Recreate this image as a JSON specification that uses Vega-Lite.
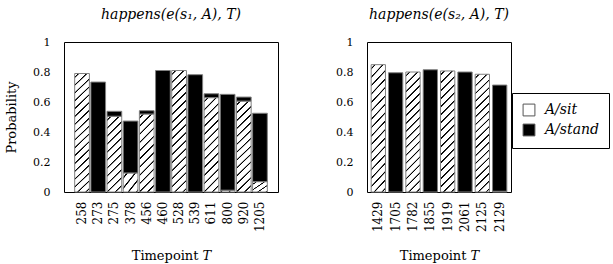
{
  "$schema": "https://vega.github.io/schema/vega-lite/v6.json",
  "autosize": {"type": "pad"},
  "padding": {"left": 5, "top": 7, "right": 0, "bottom": 0},
  "background": "white",
  "datasets": {
    "s1": [
      {"T": 258, "kind": "A/sit", "p": 0.79},
      {"T": 273, "kind": "A/stand", "p": 0.733},
      {"T": 275, "kind": "A/sit", "p": 0.505},
      {"T": 275, "kind": "A/stand", "p": 0.033},
      {"T": 378, "kind": "A/sit", "p": 0.127},
      {"T": 378, "kind": "A/stand", "p": 0.346},
      {"T": 456, "kind": "A/sit", "p": 0.52},
      {"T": 456, "kind": "A/stand", "p": 0.022},
      {"T": 460, "kind": "A/stand", "p": 0.81},
      {"T": 528, "kind": "A/sit", "p": 0.81},
      {"T": 539, "kind": "A/stand", "p": 0.782},
      {"T": 611, "kind": "A/sit", "p": 0.629},
      {"T": 611, "kind": "A/stand", "p": 0.026},
      {"T": 800, "kind": "A/sit", "p": 0.012},
      {"T": 800, "kind": "A/stand", "p": 0.639},
      {"T": 920, "kind": "A/sit", "p": 0.606},
      {"T": 920, "kind": "A/stand", "p": 0.027},
      {"T": 1205, "kind": "A/sit", "p": 0.069},
      {"T": 1205, "kind": "A/stand", "p": 0.456}
    ],
    "s2": [
      {"T": 1429, "kind": "A/sit", "p": 0.849},
      {"T": 1705, "kind": "A/stand", "p": 0.795},
      {"T": 1782, "kind": "A/sit", "p": 0.80},
      {"T": 1855, "kind": "A/stand", "p": 0.815},
      {"T": 1919, "kind": "A/sit", "p": 0.807},
      {"T": 2061, "kind": "A/stand", "p": 0.80},
      {"T": 2125, "kind": "A/sit", "p": 0.785},
      {"T": 2129, "kind": "A/sit", "p": 0.005},
      {"T": 2129, "kind": "A/stand", "p": 0.708}
    ]
  },
  "resolve": {"scale": {"x": "independent", "y": "independent", "fill": "shared"}, "legend": {"fill": "shared"}},
  "spacing": 56,
  "hconcat": [
    {
      "width": 214,
      "height": 150,
      "data": {"name": "s1"},
      "title": {"text": "happens(e(s₁, A), T)"},
      "mark": {"type": "bar", "stroke": "#808080", "strokeWidth": 1},
      "encoding": {
        "x": {"field": "T", "type": "ordinal", "scale": {"paddingInner": 0.09, "paddingOuter": 0.66},
              "axis": {"title": "Timepoint 𝑇", "labelAngle": -90, "labelFontSize": 12, "labelPadding": 9, "titlePadding": 18}},
        "y": {"field": "p", "type": "quantitative", "stack": "zero", "scale": {"domain": [0, 1]},
              "axis": {"title": "Probability", "values": [0, 0.2, 0.4, 0.6, 0.8, 1], "format": "~g", "labelPadding": 14, "titlePadding": 14}},
        "order": {"field": "kind", "type": "ordinal", "sort": "ascending"},
        "fill": {
          "field": "kind", "type": "nominal",
          "scale": {"domain": ["A/sit", "A/stand"], "range": ["white", "black"]},
          "legend": {
            "orient": "none", "legendX": 448, "legendY": 51, "title": null,
            "symbolType": "square", "symbolSize": 140, "symbolStrokeColor": "#555", "symbolStrokeWidth": 1,
            "strokeColor": "black", "fillColor": "white", "padding": 10,
            "labelFont": "DejaVu Serif", "labelFontStyle": "italic", "labelFontSize": 14, "labelColor": "black",
            "labelOffset": 9, "rowPadding": 4, "labelLimit": 200,
            "encode": {"symbols": {"update": {
              "stroke": {"value": "#555"},
              "strokeWidth": {"value": 1}
            }}}
          },
          "condition": [
            {"test": "datum.kind === 'A/sit' && datum.p > 0.7", "value": {"gradient": "linear", "x1": 0, "y1": 0, "x2": 0.1562, "y2": 1.3036, "stops": [
              {"offset": 0, "color": "#fff"},
              {"offset": 0.018, "color": "#fff"}, {"offset": 0.022, "color": "#000"}, {"offset": 0.028, "color": "#000"}, {"offset": 0.032, "color": "#fff"},
              {"offset": 0.068, "color": "#fff"}, {"offset": 0.072, "color": "#000"}, {"offset": 0.078, "color": "#000"}, {"offset": 0.082, "color": "#fff"},
              {"offset": 0.118, "color": "#fff"}, {"offset": 0.122, "color": "#000"}, {"offset": 0.128, "color": "#000"}, {"offset": 0.132, "color": "#fff"},
              {"offset": 0.168, "color": "#fff"}, {"offset": 0.172, "color": "#000"}, {"offset": 0.178, "color": "#000"}, {"offset": 0.182, "color": "#fff"},
              {"offset": 0.218, "color": "#fff"}, {"offset": 0.222, "color": "#000"}, {"offset": 0.228, "color": "#000"}, {"offset": 0.232, "color": "#fff"},
              {"offset": 0.268, "color": "#fff"}, {"offset": 0.272, "color": "#000"}, {"offset": 0.278, "color": "#000"}, {"offset": 0.282, "color": "#fff"},
              {"offset": 0.318, "color": "#fff"}, {"offset": 0.322, "color": "#000"}, {"offset": 0.328, "color": "#000"}, {"offset": 0.332, "color": "#fff"},
              {"offset": 0.368, "color": "#fff"}, {"offset": 0.372, "color": "#000"}, {"offset": 0.378, "color": "#000"}, {"offset": 0.382, "color": "#fff"},
              {"offset": 0.418, "color": "#fff"}, {"offset": 0.422, "color": "#000"}, {"offset": 0.428, "color": "#000"}, {"offset": 0.432, "color": "#fff"},
              {"offset": 0.468, "color": "#fff"}, {"offset": 0.472, "color": "#000"}, {"offset": 0.478, "color": "#000"}, {"offset": 0.482, "color": "#fff"},
              {"offset": 0.518, "color": "#fff"}, {"offset": 0.522, "color": "#000"}, {"offset": 0.528, "color": "#000"}, {"offset": 0.532, "color": "#fff"},
              {"offset": 0.568, "color": "#fff"}, {"offset": 0.572, "color": "#000"}, {"offset": 0.578, "color": "#000"}, {"offset": 0.582, "color": "#fff"},
              {"offset": 0.618, "color": "#fff"}, {"offset": 0.622, "color": "#000"}, {"offset": 0.628, "color": "#000"}, {"offset": 0.632, "color": "#fff"},
              {"offset": 0.668, "color": "#fff"}, {"offset": 0.672, "color": "#000"}, {"offset": 0.678, "color": "#000"}, {"offset": 0.682, "color": "#fff"},
              {"offset": 0.718, "color": "#fff"}, {"offset": 0.722, "color": "#000"}, {"offset": 0.728, "color": "#000"}, {"offset": 0.732, "color": "#fff"},
              {"offset": 0.768, "color": "#fff"}, {"offset": 0.772, "color": "#000"}, {"offset": 0.778, "color": "#000"}, {"offset": 0.782, "color": "#fff"},
              {"offset": 0.818, "color": "#fff"}, {"offset": 0.822, "color": "#000"}, {"offset": 0.828, "color": "#000"}, {"offset": 0.832, "color": "#fff"},
              {"offset": 0.868, "color": "#fff"}, {"offset": 0.872, "color": "#000"}, {"offset": 0.878, "color": "#000"}, {"offset": 0.882, "color": "#fff"},
              {"offset": 0.918, "color": "#fff"}, {"offset": 0.922, "color": "#000"}, {"offset": 0.928, "color": "#000"}, {"offset": 0.932, "color": "#fff"},
              {"offset": 1, "color": "#fff"}
            ]}},
            {"test": "datum.kind === 'A/sit' && datum.p > 0.58", "value": {"gradient": "linear", "x1": 0, "y1": 0, "x2": 0.2675, "y2": 1.697, "stops": [
              {"offset": 0, "color": "#fff"},
              {"offset": 0.018, "color": "#fff"}, {"offset": 0.022, "color": "#000"}, {"offset": 0.028, "color": "#000"}, {"offset": 0.032, "color": "#fff"},
              {"offset": 0.068, "color": "#fff"}, {"offset": 0.072, "color": "#000"}, {"offset": 0.078, "color": "#000"}, {"offset": 0.082, "color": "#fff"},
              {"offset": 0.118, "color": "#fff"}, {"offset": 0.122, "color": "#000"}, {"offset": 0.128, "color": "#000"}, {"offset": 0.132, "color": "#fff"},
              {"offset": 0.168, "color": "#fff"}, {"offset": 0.172, "color": "#000"}, {"offset": 0.178, "color": "#000"}, {"offset": 0.182, "color": "#fff"},
              {"offset": 0.218, "color": "#fff"}, {"offset": 0.222, "color": "#000"}, {"offset": 0.228, "color": "#000"}, {"offset": 0.232, "color": "#fff"},
              {"offset": 0.268, "color": "#fff"}, {"offset": 0.272, "color": "#000"}, {"offset": 0.278, "color": "#000"}, {"offset": 0.282, "color": "#fff"},
              {"offset": 0.318, "color": "#fff"}, {"offset": 0.322, "color": "#000"}, {"offset": 0.328, "color": "#000"}, {"offset": 0.332, "color": "#fff"},
              {"offset": 0.368, "color": "#fff"}, {"offset": 0.372, "color": "#000"}, {"offset": 0.378, "color": "#000"}, {"offset": 0.382, "color": "#fff"},
              {"offset": 0.418, "color": "#fff"}, {"offset": 0.422, "color": "#000"}, {"offset": 0.428, "color": "#000"}, {"offset": 0.432, "color": "#fff"},
              {"offset": 0.468, "color": "#fff"}, {"offset": 0.472, "color": "#000"}, {"offset": 0.478, "color": "#000"}, {"offset": 0.482, "color": "#fff"},
              {"offset": 0.518, "color": "#fff"}, {"offset": 0.522, "color": "#000"}, {"offset": 0.528, "color": "#000"}, {"offset": 0.532, "color": "#fff"},
              {"offset": 0.568, "color": "#fff"}, {"offset": 0.572, "color": "#000"}, {"offset": 0.578, "color": "#000"}, {"offset": 0.582, "color": "#fff"},
              {"offset": 0.618, "color": "#fff"}, {"offset": 0.622, "color": "#000"}, {"offset": 0.628, "color": "#000"}, {"offset": 0.632, "color": "#fff"},
              {"offset": 0.668, "color": "#fff"}, {"offset": 0.672, "color": "#000"}, {"offset": 0.678, "color": "#000"}, {"offset": 0.682, "color": "#fff"},
              {"offset": 0.718, "color": "#fff"}, {"offset": 0.722, "color": "#000"}, {"offset": 0.728, "color": "#000"}, {"offset": 0.732, "color": "#fff"},
              {"offset": 1, "color": "#fff"}
            ]}},
            {"test": "datum.kind === 'A/sit' && datum.p > 0.3", "value": {"gradient": "linear", "x1": 0, "y1": 0, "x2": 0.3876, "y2": 2.0314, "stops": [
              {"offset": 0, "color": "#fff"},
              {"offset": 0.018, "color": "#fff"}, {"offset": 0.022, "color": "#000"}, {"offset": 0.028, "color": "#000"}, {"offset": 0.032, "color": "#fff"},
              {"offset": 0.068, "color": "#fff"}, {"offset": 0.072, "color": "#000"}, {"offset": 0.078, "color": "#000"}, {"offset": 0.082, "color": "#fff"},
              {"offset": 0.118, "color": "#fff"}, {"offset": 0.122, "color": "#000"}, {"offset": 0.128, "color": "#000"}, {"offset": 0.132, "color": "#fff"},
              {"offset": 0.168, "color": "#fff"}, {"offset": 0.172, "color": "#000"}, {"offset": 0.178, "color": "#000"}, {"offset": 0.182, "color": "#fff"},
              {"offset": 0.218, "color": "#fff"}, {"offset": 0.222, "color": "#000"}, {"offset": 0.228, "color": "#000"}, {"offset": 0.232, "color": "#fff"},
              {"offset": 0.268, "color": "#fff"}, {"offset": 0.272, "color": "#000"}, {"offset": 0.278, "color": "#000"}, {"offset": 0.282, "color": "#fff"},
              {"offset": 0.318, "color": "#fff"}, {"offset": 0.322, "color": "#000"}, {"offset": 0.328, "color": "#000"}, {"offset": 0.332, "color": "#fff"},
              {"offset": 0.368, "color": "#fff"}, {"offset": 0.372, "color": "#000"}, {"offset": 0.378, "color": "#000"}, {"offset": 0.382, "color": "#fff"},
              {"offset": 0.418, "color": "#fff"}, {"offset": 0.422, "color": "#000"}, {"offset": 0.428, "color": "#000"}, {"offset": 0.432, "color": "#fff"},
              {"offset": 0.468, "color": "#fff"}, {"offset": 0.472, "color": "#000"}, {"offset": 0.478, "color": "#000"}, {"offset": 0.482, "color": "#fff"},
              {"offset": 0.518, "color": "#fff"}, {"offset": 0.522, "color": "#000"}, {"offset": 0.528, "color": "#000"}, {"offset": 0.532, "color": "#fff"},
              {"offset": 0.568, "color": "#fff"}, {"offset": 0.572, "color": "#000"}, {"offset": 0.578, "color": "#000"}, {"offset": 0.582, "color": "#fff"},
              {"offset": 1, "color": "#fff"}
            ]}},
            {"test": "datum.kind === 'A/sit'", "value": {"gradient": "linear", "x1": 0, "y1": 0, "x2": 5.333, "y2": 5.517, "stops": [
              {"offset": 0, "color": "#fff"},
              {"offset": 0.018, "color": "#fff"}, {"offset": 0.022, "color": "#000"}, {"offset": 0.028, "color": "#000"}, {"offset": 0.032, "color": "#fff"},
              {"offset": 0.068, "color": "#fff"}, {"offset": 0.072, "color": "#000"}, {"offset": 0.078, "color": "#000"}, {"offset": 0.082, "color": "#fff"},
              {"offset": 0.118, "color": "#fff"}, {"offset": 0.122, "color": "#000"}, {"offset": 0.128, "color": "#000"}, {"offset": 0.132, "color": "#fff"},
              {"offset": 0.168, "color": "#fff"}, {"offset": 0.172, "color": "#000"}, {"offset": 0.178, "color": "#000"}, {"offset": 0.182, "color": "#fff"},
              {"offset": 0.218, "color": "#fff"}, {"offset": 0.222, "color": "#000"}, {"offset": 0.228, "color": "#000"}, {"offset": 0.232, "color": "#fff"},
              {"offset": 0.268, "color": "#fff"}, {"offset": 0.272, "color": "#000"}, {"offset": 0.278, "color": "#000"}, {"offset": 0.282, "color": "#fff"},
              {"offset": 1, "color": "#fff"}
            ]}}
          ]
        }
      }
    },
    {
      "width": 144,
      "height": 150,
      "data": {"name": "s2"},
      "title": {"text": "happens(e(s₂, A), T)"},
      "mark": {"type": "bar", "stroke": "#808080", "strokeWidth": 1},
      "encoding": {
        "x": {"field": "T", "type": "ordinal", "scale": {"paddingInner": 0.175, "paddingOuter": 0.24},
              "axis": {"title": "Timepoint 𝑇", "labelAngle": -90, "labelFontSize": 12, "labelPadding": 9, "titlePadding": 18}},
        "y": {"field": "p", "type": "quantitative", "stack": "zero", "scale": {"domain": [0, 1]},
              "axis": {"title": null, "values": [0, 0.2, 0.4, 0.6, 0.8, 1], "format": "~g", "labelPadding": 14}},
        "order": {"field": "kind", "type": "ordinal", "sort": "ascending"},
        "fill": {
          "field": "kind", "type": "nominal",
          "scale": {"domain": ["A/sit", "A/stand"], "range": ["white", "black"]},
          "condition": [
            {"test": "datum.kind === 'A/sit' && datum.p > 0.7", "value": {"gradient": "linear", "x1": 0, "y1": 0, "x2": 0.1562, "y2": 1.3036, "stops": [
              {"offset": 0, "color": "#fff"},
              {"offset": 0.018, "color": "#fff"}, {"offset": 0.022, "color": "#000"}, {"offset": 0.028, "color": "#000"}, {"offset": 0.032, "color": "#fff"},
              {"offset": 0.068, "color": "#fff"}, {"offset": 0.072, "color": "#000"}, {"offset": 0.078, "color": "#000"}, {"offset": 0.082, "color": "#fff"},
              {"offset": 0.118, "color": "#fff"}, {"offset": 0.122, "color": "#000"}, {"offset": 0.128, "color": "#000"}, {"offset": 0.132, "color": "#fff"},
              {"offset": 0.168, "color": "#fff"}, {"offset": 0.172, "color": "#000"}, {"offset": 0.178, "color": "#000"}, {"offset": 0.182, "color": "#fff"},
              {"offset": 0.218, "color": "#fff"}, {"offset": 0.222, "color": "#000"}, {"offset": 0.228, "color": "#000"}, {"offset": 0.232, "color": "#fff"},
              {"offset": 0.268, "color": "#fff"}, {"offset": 0.272, "color": "#000"}, {"offset": 0.278, "color": "#000"}, {"offset": 0.282, "color": "#fff"},
              {"offset": 0.318, "color": "#fff"}, {"offset": 0.322, "color": "#000"}, {"offset": 0.328, "color": "#000"}, {"offset": 0.332, "color": "#fff"},
              {"offset": 0.368, "color": "#fff"}, {"offset": 0.372, "color": "#000"}, {"offset": 0.378, "color": "#000"}, {"offset": 0.382, "color": "#fff"},
              {"offset": 0.418, "color": "#fff"}, {"offset": 0.422, "color": "#000"}, {"offset": 0.428, "color": "#000"}, {"offset": 0.432, "color": "#fff"},
              {"offset": 0.468, "color": "#fff"}, {"offset": 0.472, "color": "#000"}, {"offset": 0.478, "color": "#000"}, {"offset": 0.482, "color": "#fff"},
              {"offset": 0.518, "color": "#fff"}, {"offset": 0.522, "color": "#000"}, {"offset": 0.528, "color": "#000"}, {"offset": 0.532, "color": "#fff"},
              {"offset": 0.568, "color": "#fff"}, {"offset": 0.572, "color": "#000"}, {"offset": 0.578, "color": "#000"}, {"offset": 0.582, "color": "#fff"},
              {"offset": 0.618, "color": "#fff"}, {"offset": 0.622, "color": "#000"}, {"offset": 0.628, "color": "#000"}, {"offset": 0.632, "color": "#fff"},
              {"offset": 0.668, "color": "#fff"}, {"offset": 0.672, "color": "#000"}, {"offset": 0.678, "color": "#000"}, {"offset": 0.682, "color": "#fff"},
              {"offset": 0.718, "color": "#fff"}, {"offset": 0.722, "color": "#000"}, {"offset": 0.728, "color": "#000"}, {"offset": 0.732, "color": "#fff"},
              {"offset": 0.768, "color": "#fff"}, {"offset": 0.772, "color": "#000"}, {"offset": 0.778, "color": "#000"}, {"offset": 0.782, "color": "#fff"},
              {"offset": 0.818, "color": "#fff"}, {"offset": 0.822, "color": "#000"}, {"offset": 0.828, "color": "#000"}, {"offset": 0.832, "color": "#fff"},
              {"offset": 0.868, "color": "#fff"}, {"offset": 0.872, "color": "#000"}, {"offset": 0.878, "color": "#000"}, {"offset": 0.882, "color": "#fff"},
              {"offset": 0.918, "color": "#fff"}, {"offset": 0.922, "color": "#000"}, {"offset": 0.928, "color": "#000"}, {"offset": 0.932, "color": "#fff"},
              {"offset": 1, "color": "#fff"}
            ]}},
            {"test": "datum.kind === 'A/sit'", "value": {"gradient": "linear", "x1": 0, "y1": 0, "x2": 5.333, "y2": 5.517, "stops": [
              {"offset": 0, "color": "#fff"},
              {"offset": 0.018, "color": "#fff"}, {"offset": 0.022, "color": "#000"}, {"offset": 0.028, "color": "#000"}, {"offset": 0.032, "color": "#fff"},
              {"offset": 0.068, "color": "#fff"}, {"offset": 0.072, "color": "#000"}, {"offset": 0.078, "color": "#000"}, {"offset": 0.082, "color": "#fff"},
              {"offset": 1, "color": "#fff"}
            ]}}
          ]
        }
      }
    }
  ],
  "config": {
    "view": {"stroke": "black", "strokeWidth": 1},
    "font": "DejaVu Serif",
    "axis": {
      "domain": false, "ticks": false, "grid": false,
      "labelFont": "DejaVu Serif", "titleFont": "DejaVu Serif",
      "labelColor": "black", "titleColor": "black",
      "labelFontSize": 11, "titleFontSize": 13, "titleFontWeight": "normal"
    },
    "title": {"font": "DejaVu Serif", "fontSize": 14, "fontStyle": "italic", "fontWeight": "normal", "color": "black", "offset": 14}
  }
}
